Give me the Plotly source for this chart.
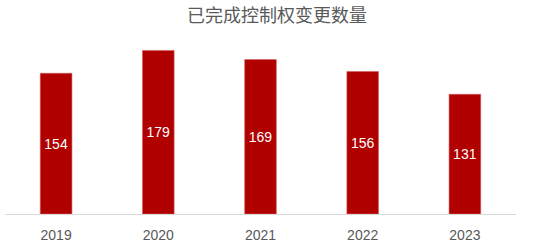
import plotly.graph_objects as go

years = ["2019", "2020", "2021", "2022", "2023"]
counts = [154, 179, 169, 156, 131]

fig = go.Figure()
fig.add_trace(go.Bar(
    x=years, y=counts,
    marker=dict(color="#B00000", line=dict(color="#D46060", width=0.6)),
    width=0.31,
    text=[str(v) for v in counts],
    textposition="inside",
    insidetextanchor="middle",
    textfont=dict(color="white", size=14, family="Liberation Sans, Arial, sans-serif"),
))
fig.update_layout(
    width=554, height=246,
    margin=dict(l=5, r=38, t=40, b=32),
    paper_bgcolor="white", plot_bgcolor="white",
    title=dict(text="已完成控制权变更数量", x=0.5, xanchor="center", y=0.935, yanchor="middle",
               font=dict(size=18, color="#595959", family="Noto Sans CJK SC")),
    showlegend=False,
    xaxis=dict(showgrid=False, showline=True, linecolor="#D9D9D9", linewidth=1,
               ticks="outside", ticklen=8, tickcolor="rgba(0,0,0,0)", automargin=False,
               tickfont=dict(size=14, color="#595959", family="Liberation Sans, Arial"),
               range=[-0.5, 4.5]),
    yaxis=dict(visible=False, range=[0, 190.4]),
)
fig.write_html("out.html")
